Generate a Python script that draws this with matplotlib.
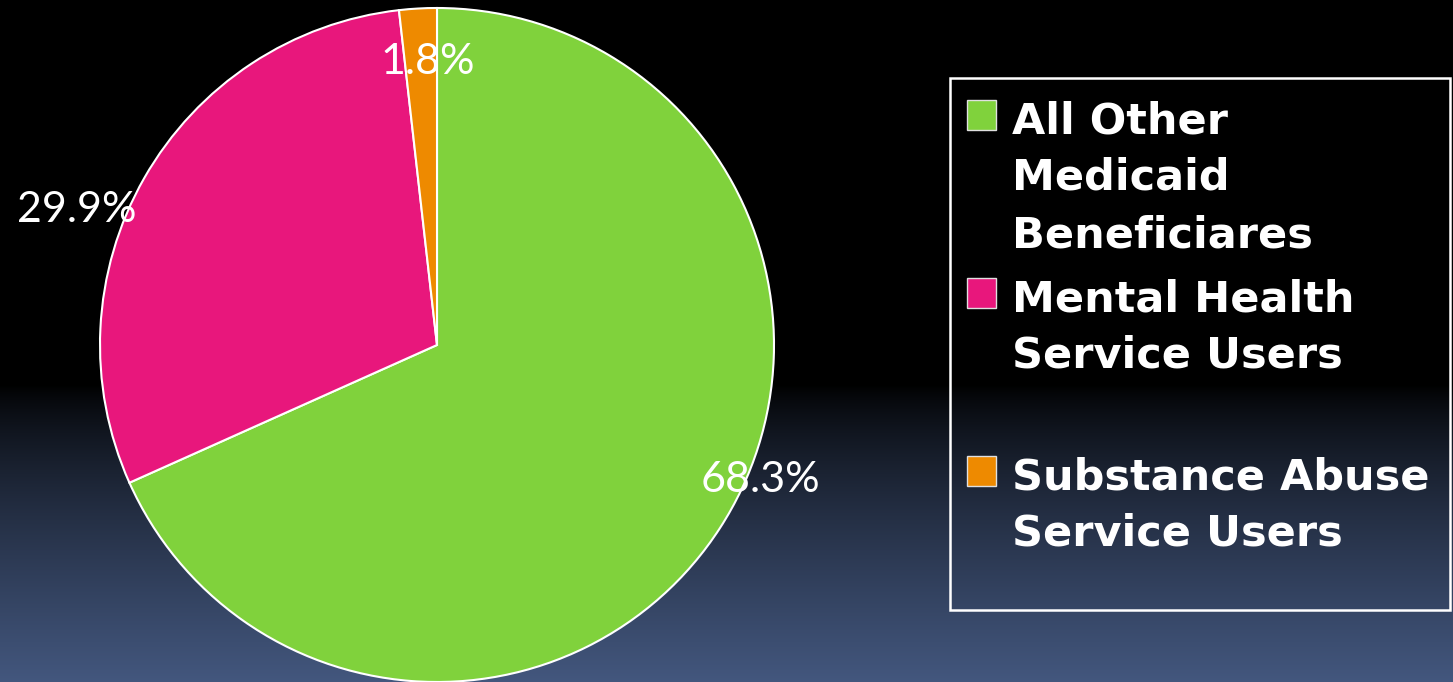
import numpy as np
import matplotlib.pyplot as plt
from matplotlib.patches import Rectangle

# data
labels = ['All Other\nMedicaid\nBeneficiares',
          'Mental Health\nService Users',
          'Substance Abuse\nService Users']
shares = [68.3, 29.9, 1.8]
colors = ['#80d23c', '#e8177c', '#ee8a00']

W, H = 1453, 682
fig = plt.figure(figsize=(W / 100, H / 100), dpi=100)

# background: black on top, fading to slate blue at the bottom
bg = fig.add_axes([0, 0, 1, 1], zorder=0)
bg.axis('off')
rows = np.arange(H)
t = np.clip((rows - 385) / (H - 385), 0, 1) ** 0.75
bottom = np.array([0.263, 0.341, 0.494])
img = t[:, None, None] * bottom[None, None, :] * np.ones((H, 2, 3))
bg.imshow(img, aspect='auto', extent=[0, 1, 0, 1])

# pie
ax = fig.add_axes([100 / W, 0, 674 / W, 674 / H], zorder=1)
wedges, texts, autotexts = ax.pie(
    shares, colors=colors, startangle=90, counterclock=False, radius=1,
    autopct='%.1f%%',
    wedgeprops=dict(edgecolor='white', linewidth=1.5),
    textprops=dict(color='white', fontsize=31, family='Lato'))
ax.set_xlim(-1, 1)
ax.set_ylim(-1, 1)
ax.set_aspect('equal')
ax.axis('off')

# label spots (Excel "best fit" style)
label_pos = [(0.96, -0.40), (-1.07, 0.40), (-0.027, 0.84)]
for txt, pos in zip(autotexts, label_pos):
    txt.set_position(pos)
    txt.set_clip_on(False)

# legend drawn by hand, entries spaced evenly
fig.add_artist(Rectangle((950 / W, 1 - 610 / H), 500 / W, 532 / H,
                         fill=False, ec='white', lw=1.8,
                         transform=fig.transFigure, zorder=3))
for i, lab in enumerate(labels):
    top = 100 + i * 178
    fig.add_artist(Rectangle((967 / W, 1 - (top + 30) / H), 29 / W, 30 / H,
                             fc=colors[i], ec='#e0e0e0', lw=1,
                             transform=fig.transFigure, zorder=3))
    base = 133 + i * 178
    for j, line in enumerate(lab.split('\n')):
        fig.text(1012 / W, 1 - (base + j * 57) / H, line, fontsize=31,
                 weight='bold', family='DejaVu Sans', color='white',
                 va='baseline', ha='left', zorder=4)

fig.savefig('out.png', dpi=100)
